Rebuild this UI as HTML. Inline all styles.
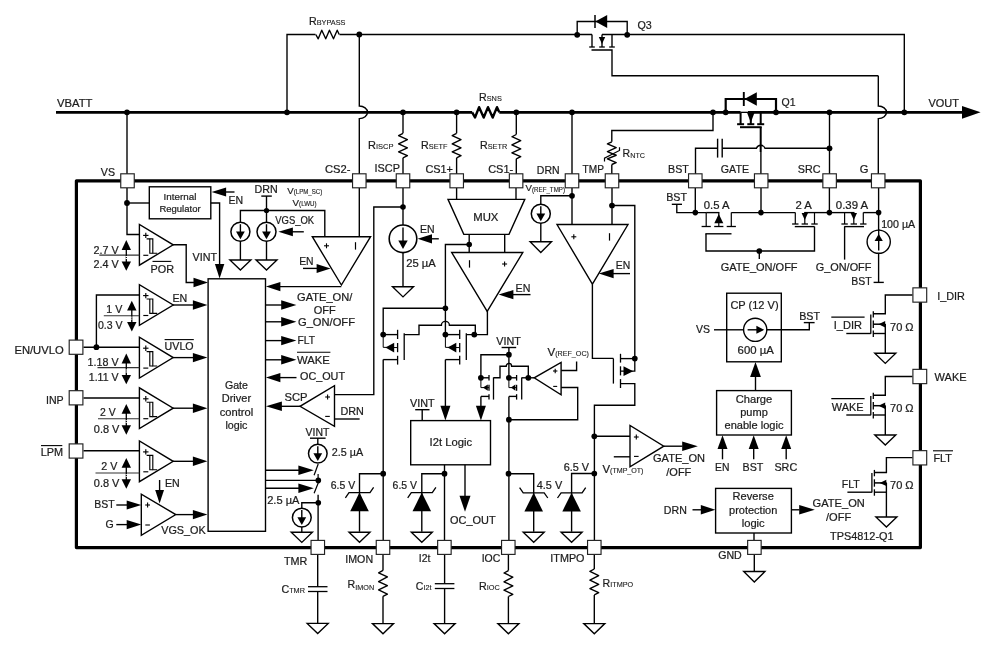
<!DOCTYPE html>
<html lang="en">
<head>
<meta charset="utf-8">
<title>TPS4812-Q1 Functional Block Diagram</title>
<style>
html,body{margin:0;padding:0;background:#fff;}
svg{display:block;will-change:transform;}
svg text{font-family:"Liberation Sans",Arial,Helvetica,sans-serif;fill:#1c1c1c;stroke:#1c1c1c;stroke-width:0.22px;}
</style>
</head>
<body>
<svg width="998" height="659" viewBox="0 0 998 659" stroke-linecap="butt" stroke-linejoin="miter">
<rect x="0" y="0" width="998" height="659" fill="#fff"/>
<rect x="76.4" y="180.8" width="844.0" height="366.8" fill="none" stroke="#000" stroke-width="3.2" stroke-linejoin="round"/>
<path d="M56.00,112.35 L472.20,112.35" fill="none" stroke="#000" stroke-width="2.7" />
<path d="M472.20,112.35 L475.00,117.55 L479.10,107.15 L483.70,117.55 L488.00,107.15 L492.70,117.55 L497.00,107.15 L499.30,112.35" fill="none" stroke="#000" stroke-width="2.4" stroke-linejoin="round"/>
<path d="M499.30,112.35 L740.60,112.35" fill="none" stroke="#000" stroke-width="2.7" />
<path d="M748.00,112.35 L963.00,112.35" fill="none" stroke="#000" stroke-width="2.7" />
<polygon points="980.60,112.35 962.00,106.05 962.00,118.65" fill="#000"/>
<text x="57.00" y="106.60" font-size="10.7" textLength="35.5" lengthAdjust="spacingAndGlyphs" >VBATT</text>
<text x="928.50" y="107.00" font-size="10.7" textLength="30.5" lengthAdjust="spacingAndGlyphs" >VOUT</text>
<circle cx="127.00" cy="112.35" r="2.9" fill="#000"/>
<path d="M127.00,112.35 L127.00,174.00" fill="none" stroke="#000" stroke-width="1.38" />
<circle cx="287.00" cy="112.35" r="2.9" fill="#000"/>
<path d="M287.00,112.35 L287.00,34.50 L315.50,34.50" fill="none" stroke="#000" stroke-width="1.38" />
<path d="M315.80,34.50 L318.22,38.80 L321.76,30.20 L325.73,38.80 L329.44,30.20 L333.50,38.80 L337.21,30.20 L339.20,34.50" fill="none" stroke="#000" stroke-width="1.38" stroke-linejoin="round"/>
<path d="M339.50,34.50 L592.00,34.50" fill="none" stroke="#000" stroke-width="1.38" />
<circle cx="359.30" cy="34.50" r="2.9" fill="#000"/>
<path d="M359.3,34.5 L359.3,106 A8.2,6.3 0 0 1 359.3,118.6 L359.3,174" fill="none" stroke="#000" stroke-width="1.38" />
<text x="309.00" y="25.00" font-size="10.8" textLength="36.5" lengthAdjust="spacingAndGlyphs">R<tspan font-size="7.4" stroke-width="0.12">BYPASS</tspan></text>
<circle cx="403.00" cy="112.35" r="2.9" fill="#000"/>
<path d="M403.00,112.35 L403.00,133.30" fill="none" stroke="#000" stroke-width="1.38" />
<path d="M403.00,133.30 L398.60,135.56 L407.40,139.52 L398.60,143.85 L407.40,147.81 L398.60,151.77 L407.40,155.73 L403.00,157.80" fill="none" stroke="#000" stroke-width="1.38" stroke-linejoin="round"/>
<path d="M403.00,157.80 L403.00,174.00" fill="none" stroke="#000" stroke-width="1.38" />
<circle cx="456.60" cy="112.35" r="2.9" fill="#000"/>
<path d="M456.60,112.35 L456.60,133.30" fill="none" stroke="#000" stroke-width="1.38" />
<path d="M456.60,133.30 L452.20,135.56 L461.00,139.52 L452.20,143.85 L461.00,147.81 L452.20,151.77 L461.00,155.73 L456.60,157.80" fill="none" stroke="#000" stroke-width="1.38" stroke-linejoin="round"/>
<path d="M456.60,157.80 L456.60,174.00" fill="none" stroke="#000" stroke-width="1.38" />
<circle cx="516.30" cy="112.35" r="2.9" fill="#000"/>
<path d="M516.30,112.35 L516.30,134.50" fill="none" stroke="#000" stroke-width="1.38" />
<path d="M516.30,134.50 L511.90,136.74 L520.70,140.67 L511.90,144.97 L520.70,148.89 L511.90,152.82 L520.70,156.74 L516.30,158.80" fill="none" stroke="#000" stroke-width="1.38" stroke-linejoin="round"/>
<path d="M516.30,158.80 L516.30,174.00" fill="none" stroke="#000" stroke-width="1.38" />
<text x="368.00" y="149.00" font-size="10.8" textLength="25.5" lengthAdjust="spacingAndGlyphs">R<tspan font-size="7.4" stroke-width="0.12">ISCP</tspan></text>
<text x="421.00" y="148.60" font-size="10.8" textLength="26.5" lengthAdjust="spacingAndGlyphs">R<tspan font-size="7.4" stroke-width="0.12">SETF</tspan></text>
<text x="480.00" y="149.40" font-size="10.8" textLength="27.2" lengthAdjust="spacingAndGlyphs">R<tspan font-size="7.4" stroke-width="0.12">SETR</tspan></text>
<text x="479.00" y="100.70" font-size="10.8" textLength="22.8" lengthAdjust="spacingAndGlyphs">R<tspan font-size="7.4" stroke-width="0.12">SNS</tspan></text>
<circle cx="572.00" cy="112.35" r="2.9" fill="#000"/>
<path d="M572.00,112.35 L572.00,174.00" fill="none" stroke="#000" stroke-width="1.38" />
<circle cx="713.00" cy="112.35" r="2.9" fill="#000"/>
<path d="M713.00,112.35 L713.00,130.50 L611.80,130.50 L611.80,141.80" fill="none" stroke="#000" stroke-width="1.38" />
<path d="M611.80,141.80 L607.40,143.90 L616.20,147.56 L607.40,151.58 L616.20,155.25 L607.40,158.91 L616.20,162.58 L611.80,164.50" fill="none" stroke="#000" stroke-width="1.38" stroke-linejoin="round"/>
<path d="M611.80,164.50 L611.80,174.00" fill="none" stroke="#000" stroke-width="1.38" />
<path d="M604.50,161.60 L604.50,158.20 L619.50,150.50 L619.50,147.20" fill="none" stroke="#000" stroke-width="1.2" />
<text x="622.60" y="156.90" font-size="10.8" textLength="22.4" lengthAdjust="spacingAndGlyphs">R<tspan font-size="7.4" dy="0.7" stroke-width="0.12">NTC</tspan></text>
<circle cx="577.20" cy="34.80" r="2.9" fill="#000"/>
<circle cx="627.20" cy="34.80" r="2.9" fill="#000"/>
<path d="M577.20,34.80 L577.20,21.50 L627.20,21.50 L627.20,34.80" fill="none" stroke="#000" stroke-width="1.38" />
<polygon points="595.3,21.5 607.2,15 607.2,28" fill="#000"/>
<path d="M595.00,15.00 L595.00,28.00" fill="none" stroke="#000" stroke-width="1.5" />
<path d="M592.00,34.50 L592.00,47.00" fill="none" stroke="#000" stroke-width="1.38" />
<path d="M602.00,34.50 L602.00,47.00" fill="none" stroke="#000" stroke-width="1.38" />
<path d="M612.00,34.50 L612.00,47.00" fill="none" stroke="#000" stroke-width="1.38" />
<path d="M602.00,34.50 L904.30,34.50 L904.30,112.35" fill="none" stroke="#000" stroke-width="1.38" />
<path d="M589.20,47.00 L594.80,47.00" fill="none" stroke="#000" stroke-width="1.3" />
<path d="M599.20,47.00 L604.80,47.00" fill="none" stroke="#000" stroke-width="1.3" />
<path d="M609.20,47.00 L614.80,47.00" fill="none" stroke="#000" stroke-width="1.3" />
<polygon points="602,44 598.8,37 605.2,37" fill="#000"/>
<path d="M591.50,50.00 L612.00,50.00 L612.00,75.80 L878.30,75.80" fill="none" stroke="#000" stroke-width="1.38" />
<path d="M878.3,75.8 L878.3,106 A8.2,6.3 0 0 1 878.3,118.6 L878.3,174" fill="none" stroke="#000" stroke-width="1.38" />
<text x="637.50" y="28.80" font-size="10.6" textLength="14.3" lengthAdjust="spacingAndGlyphs" >Q3</text>
<circle cx="904.30" cy="112.35" r="2.9" fill="#000"/>
<circle cx="725.70" cy="112.35" r="2.9" fill="#000"/>
<circle cx="776.00" cy="112.35" r="2.9" fill="#000"/>
<path d="M725.70,112.35 L725.70,99.00 L776.00,99.00 L776.00,112.35" fill="none" stroke="#000" stroke-width="2.2" />
<polygon points="744.4,99 756.8,92.3 756.8,105.7" fill="#000"/>
<path d="M743.80,92.00 L743.80,106.00" fill="none" stroke="#000" stroke-width="1.9" />
<path d="M740.60,112.35 L740.60,124.20" fill="none" stroke="#000" stroke-width="2.0" />
<path d="M737.10,124.20 L744.10,124.20" fill="none" stroke="#000" stroke-width="2.0" />
<path d="M750.80,112.35 L750.80,124.20" fill="none" stroke="#000" stroke-width="2.0" />
<path d="M747.30,124.20 L754.30,124.20" fill="none" stroke="#000" stroke-width="2.0" />
<path d="M760.70,112.35 L760.70,124.20" fill="none" stroke="#000" stroke-width="2.0" />
<path d="M757.20,124.20 L764.20,124.20" fill="none" stroke="#000" stroke-width="2.0" />
<polygon points="750.8,122.6 746.9,112.3 754.7,112.3" fill="#000"/>
<path d="M740.60,112.35 L748.00,112.35" fill="none" stroke="#000" stroke-width="1.3" />
<path d="M740.00,127.20 L761.70,127.20" fill="none" stroke="#000" stroke-width="2.0" />
<path d="M760.70,127.20 L760.70,152.00" fill="none" stroke="#000" stroke-width="2.0" />
<path d="M760.90,152.00 L760.90,174.00" fill="none" stroke="#000" stroke-width="1.38" />
<text x="781.50" y="105.80" font-size="10.6" textLength="14.0" lengthAdjust="spacingAndGlyphs" >Q1</text>
<path d="M695.50,174.00 L695.50,148.30 L717.60,148.30" fill="none" stroke="#000" stroke-width="1.38" />
<path d="M717.60,138.70 L717.60,157.60" fill="none" stroke="#000" stroke-width="1.4" />
<path d="M722.20,138.70 L722.20,157.60" fill="none" stroke="#000" stroke-width="1.4" />
<path d="M722.2,148.3 L756.4,148.3 A4.6,4.8 0 0 1 765,148.3 L829.5,148.3" fill="none" stroke="#000" stroke-width="1.38" />
<circle cx="829.50" cy="112.35" r="2.9" fill="#000"/>
<circle cx="829.50" cy="148.30" r="2.9" fill="#000"/>
<path d="M829.50,112.35 L829.50,174.00" fill="none" stroke="#000" stroke-width="1.38" />
<text x="100.80" y="175.80" font-size="10.6" textLength="14.2" lengthAdjust="spacingAndGlyphs" >VS</text>
<text x="325.00" y="173.20" font-size="10.6" textLength="25.5" lengthAdjust="spacingAndGlyphs" >CS2-</text>
<text x="374.60" y="172.20" font-size="10.6" textLength="25.4" lengthAdjust="spacingAndGlyphs" >ISCP</text>
<text x="425.40" y="173.20" font-size="10.6" textLength="27.6" lengthAdjust="spacingAndGlyphs" >CS1+</text>
<text x="488.20" y="173.20" font-size="10.6" textLength="25.0" lengthAdjust="spacingAndGlyphs" >CS1-</text>
<text x="536.80" y="173.60" font-size="10.6" textLength="22.8" lengthAdjust="spacingAndGlyphs" >DRN</text>
<text x="582.50" y="172.60" font-size="10.6" textLength="21.4" lengthAdjust="spacingAndGlyphs" >TMP</text>
<text x="668.00" y="172.60" font-size="10.6" textLength="20.8" lengthAdjust="spacingAndGlyphs" >BST</text>
<text x="720.80" y="172.80" font-size="10.6" textLength="28.2" lengthAdjust="spacingAndGlyphs" >GATE</text>
<text x="797.80" y="172.60" font-size="10.6" textLength="22.7" lengthAdjust="spacingAndGlyphs" >SRC</text>
<text x="859.80" y="172.60" font-size="10.6" textLength="8.7" lengthAdjust="spacingAndGlyphs" >G</text>
<path d="M127.00,188.00 L127.00,234.50 L139.40,234.50" fill="none" stroke="#000" stroke-width="1.38" />
<circle cx="127.00" cy="203.00" r="2.9" fill="#000"/>
<path d="M127.00,203.00 L149.30,203.00" fill="none" stroke="#000" stroke-width="1.38" />
<rect x="149.30" y="186.80" width="61.50" height="32.00" fill="#fff" stroke="#000" stroke-width="1.38"/>
<text x="180.00" y="200.00" font-size="9.9" text-anchor="middle" textLength="32.8" lengthAdjust="spacingAndGlyphs" >Internal</text>
<text x="180.00" y="212.00" font-size="9.9" text-anchor="middle" textLength="41.2" lengthAdjust="spacingAndGlyphs" >Regulator</text>
<polygon points="211.60,192.00 226.10,187.40 226.10,196.60" fill="#000"/>
<path d="M226.00,192.00 L234.50,192.00" fill="none" stroke="#000" stroke-width="1.38" />
<text x="228.60" y="203.60" font-size="10.6" textLength="14.6" lengthAdjust="spacingAndGlyphs" >EN</text>
<path d="M210.80,203.00 L219.60,203.00 L219.60,264.50" fill="none" stroke="#000" stroke-width="1.38" />
<polygon points="219.60,278.60 214.90,264.10 224.30,264.10" fill="#000"/>
<text x="192.50" y="260.60" font-size="10.6" textLength="24.5" lengthAdjust="spacingAndGlyphs" >VINT</text>
<polygon points="139.40,224.40 139.40,265.20 173.20,244.80" fill="#fff" stroke="#000" stroke-width="1.38"/>
<path d="M143.10,235.40 L148.50,235.40" fill="none" stroke="#000" stroke-width="1.15" />
<path d="M145.80,232.70 L145.80,238.10" fill="none" stroke="#000" stroke-width="1.15" />
<path d="M143.30,255.30 L148.30,255.30" fill="none" stroke="#000" stroke-width="1.15" />
<path d="M146.60,238.80 L152.80,238.80 L152.80,253.20 L157.20,253.20" fill="none" stroke="#000" stroke-width="1.15" />
<path d="M149.80,238.80 L149.80,253.20 L152.80,253.20" fill="none" stroke="#000" stroke-width="1.15" />
<path d="M99.30,255.10 L139.40,255.10" fill="none" stroke="#333" stroke-width="1.1" />
<polygon points="126.30,240.10 121.60,249.90 131.00,249.90" fill="#000"/>
<polygon points="126.30,270.80 121.60,261.40 131.00,261.40" fill="#000"/>
<path d="M126.30,249.10 L126.30,262.10" fill="none" stroke="#000" stroke-width="1.3" />
<path d="M126.3,256.0 L126.3,259.3" stroke="#fff" stroke-width="1.6" stroke-dasharray="0.9,1.1" fill="none"/>
<text x="93.50" y="253.80" font-size="10.6" textLength="25.2" lengthAdjust="spacingAndGlyphs" >2.7 V</text>
<text x="93.50" y="267.70" font-size="10.6" textLength="25.2" lengthAdjust="spacingAndGlyphs" >2.4 V</text>
<text x="150.50" y="272.60" font-size="10.6" textLength="23.5" lengthAdjust="spacingAndGlyphs" >POR</text>
<path d="M152.50,261.40 L171.30,261.40" fill="none" stroke="#000" stroke-width="1.1" />
<path d="M173.00,244.80 L186.20,244.80 L186.20,282.50 L194.00,282.50" fill="none" stroke="#000" stroke-width="1.38" />
<polygon points="208.00,282.50 193.50,277.80 193.50,287.20" fill="#000"/>
<polygon points="139.40,284.60 139.40,325.40 173.20,305.00" fill="#fff" stroke="#000" stroke-width="1.38"/>
<path d="M143.10,295.60 L148.50,295.60" fill="none" stroke="#000" stroke-width="1.15" />
<path d="M145.80,292.90 L145.80,298.30" fill="none" stroke="#000" stroke-width="1.15" />
<path d="M143.30,315.50 L148.30,315.50" fill="none" stroke="#000" stroke-width="1.15" />
<path d="M146.60,299.00 L152.80,299.00 L152.80,313.40 L157.20,313.40" fill="none" stroke="#000" stroke-width="1.15" />
<path d="M149.80,299.00 L149.80,313.40 L152.80,313.40" fill="none" stroke="#000" stroke-width="1.15" />
<path d="M96.40,347.20 L96.40,295.00 L139.40,295.00" fill="none" stroke="#000" stroke-width="1.38" />
<path d="M103.80,315.80 L139.40,315.80" fill="none" stroke="#333" stroke-width="1.1" />
<polygon points="131.80,300.80 127.10,310.60 136.50,310.60" fill="#000"/>
<polygon points="131.80,331.50 127.10,322.10 136.50,322.10" fill="#000"/>
<path d="M131.80,309.80 L131.80,322.80" fill="none" stroke="#000" stroke-width="1.3" />
<path d="M131.8,316.7 L131.8,320.0" stroke="#fff" stroke-width="1.6" stroke-dasharray="0.9,1.1" fill="none"/>
<text x="106.30" y="312.60" font-size="10.6" textLength="16.0" lengthAdjust="spacingAndGlyphs" >1 V</text>
<text x="98.00" y="328.80" font-size="10.6" textLength="24.6" lengthAdjust="spacingAndGlyphs" >0.3 V</text>
<text x="172.40" y="302.00" font-size="10.6" textLength="14.8" lengthAdjust="spacingAndGlyphs" >EN</text>
<path d="M173.00,305.00 L193.00,305.00" fill="none" stroke="#000" stroke-width="1.38" />
<polygon points="207.40,305.00 192.90,300.30 192.90,309.70" fill="#000"/>
<polygon points="139.40,337.20 139.40,378.00 173.20,357.60" fill="#fff" stroke="#000" stroke-width="1.38"/>
<path d="M143.10,348.20 L148.50,348.20" fill="none" stroke="#000" stroke-width="1.15" />
<path d="M145.80,345.50 L145.80,350.90" fill="none" stroke="#000" stroke-width="1.15" />
<path d="M143.30,368.10 L148.30,368.10" fill="none" stroke="#000" stroke-width="1.15" />
<path d="M146.60,351.60 L152.80,351.60 L152.80,366.00 L157.20,366.00" fill="none" stroke="#000" stroke-width="1.15" />
<path d="M149.80,351.60 L149.80,366.00 L152.80,366.00" fill="none" stroke="#000" stroke-width="1.15" />
<circle cx="96.40" cy="347.20" r="2.9" fill="#000"/>
<path d="M83.50,347.20 L139.40,347.20" fill="none" stroke="#000" stroke-width="1.38" />
<path d="M97.50,367.60 L139.40,367.60" fill="none" stroke="#333" stroke-width="1.1" />
<polygon points="126.30,353.60 121.60,363.40 131.00,363.40" fill="#000"/>
<polygon points="126.30,384.30 121.60,374.90 131.00,374.90" fill="#000"/>
<path d="M126.30,362.60 L126.30,375.60" fill="none" stroke="#000" stroke-width="1.3" />
<path d="M126.3,369.5 L126.3,372.8" stroke="#fff" stroke-width="1.6" stroke-dasharray="0.9,1.1" fill="none"/>
<text x="87.60" y="366.30" font-size="10.6" textLength="31.0" lengthAdjust="spacingAndGlyphs" >1.18 V</text>
<text x="88.80" y="380.50" font-size="10.6" textLength="29.8" lengthAdjust="spacingAndGlyphs" >1.11 V</text>
<text x="164.60" y="350.00" font-size="10.6" textLength="29.0" lengthAdjust="spacingAndGlyphs" >UVLO</text>
<path d="M164.60,339.60 L193.80,339.60" fill="none" stroke="#000" stroke-width="1.1" />
<path d="M173.00,357.60 L193.00,357.60" fill="none" stroke="#000" stroke-width="1.38" />
<polygon points="207.40,357.60 192.90,352.90 192.90,362.30" fill="#000"/>
<polygon points="139.40,387.80 139.40,428.60 173.20,408.20" fill="#fff" stroke="#000" stroke-width="1.38"/>
<path d="M143.10,398.80 L148.50,398.80" fill="none" stroke="#000" stroke-width="1.15" />
<path d="M145.80,396.10 L145.80,401.50" fill="none" stroke="#000" stroke-width="1.15" />
<path d="M143.30,418.70 L148.30,418.70" fill="none" stroke="#000" stroke-width="1.15" />
<path d="M146.60,402.20 L152.80,402.20 L152.80,416.60 L157.20,416.60" fill="none" stroke="#000" stroke-width="1.15" />
<path d="M149.80,402.20 L149.80,416.60 L152.80,416.60" fill="none" stroke="#000" stroke-width="1.15" />
<path d="M83.50,398.00 L139.40,398.00" fill="none" stroke="#000" stroke-width="1.38" />
<path d="M98.00,418.80 L139.40,418.80" fill="none" stroke="#333" stroke-width="1.1" />
<polygon points="126.30,404.00 121.60,413.80 131.00,413.80" fill="#000"/>
<polygon points="126.30,434.70 121.60,425.30 131.00,425.30" fill="#000"/>
<path d="M126.30,413.00 L126.30,426.00" fill="none" stroke="#000" stroke-width="1.3" />
<path d="M126.3,419.9 L126.3,423.2" stroke="#fff" stroke-width="1.6" stroke-dasharray="0.9,1.1" fill="none"/>
<text x="100.00" y="415.60" font-size="10.6" textLength="15.6" lengthAdjust="spacingAndGlyphs" >2 V</text>
<text x="93.80" y="432.60" font-size="10.6" textLength="25.6" lengthAdjust="spacingAndGlyphs" >0.8 V</text>
<path d="M173.00,408.20 L193.00,408.20" fill="none" stroke="#000" stroke-width="1.38" />
<polygon points="207.40,408.20 192.90,403.50 192.90,412.90" fill="#000"/>
<polygon points="139.40,440.90 139.40,481.70 173.20,461.30" fill="#fff" stroke="#000" stroke-width="1.38"/>
<path d="M143.10,451.90 L148.50,451.90" fill="none" stroke="#000" stroke-width="1.15" />
<path d="M145.80,449.20 L145.80,454.60" fill="none" stroke="#000" stroke-width="1.15" />
<path d="M143.30,471.80 L148.30,471.80" fill="none" stroke="#000" stroke-width="1.15" />
<path d="M146.60,455.30 L152.80,455.30 L152.80,469.70 L157.20,469.70" fill="none" stroke="#000" stroke-width="1.15" />
<path d="M149.80,455.30 L149.80,469.70 L152.80,469.70" fill="none" stroke="#000" stroke-width="1.15" />
<path d="M83.50,450.80 L139.40,450.80" fill="none" stroke="#000" stroke-width="1.38" />
<path d="M95.50,473.00 L139.40,473.00" fill="none" stroke="#333" stroke-width="1.1" />
<polygon points="126.30,458.00 121.60,467.80 131.00,467.80" fill="#000"/>
<polygon points="126.30,488.70 121.60,479.30 131.00,479.30" fill="#000"/>
<path d="M126.30,467.00 L126.30,480.00" fill="none" stroke="#000" stroke-width="1.3" />
<path d="M126.3,473.9 L126.3,477.2" stroke="#fff" stroke-width="1.6" stroke-dasharray="0.9,1.1" fill="none"/>
<text x="101.30" y="469.60" font-size="10.6" textLength="16.0" lengthAdjust="spacingAndGlyphs" >2 V</text>
<text x="93.80" y="487.00" font-size="10.6" textLength="25.6" lengthAdjust="spacingAndGlyphs" >0.8 V</text>
<path d="M173.00,461.30 L193.00,461.30" fill="none" stroke="#000" stroke-width="1.38" />
<polygon points="207.40,461.30 192.90,456.60 192.90,466.00" fill="#000"/>
<polygon points="141.3,494.2 141.3,535.4 175.8,514.6" fill="#fff" stroke="#000" stroke-width="1.38"/>
<path d="M145.20,505.00 L150.00,505.00" fill="none" stroke="#000" stroke-width="1.1" />
<path d="M147.60,502.60 L147.60,507.40" fill="none" stroke="#000" stroke-width="1.1" />
<path d="M145.30,525.00 L149.90,525.00" fill="none" stroke="#000" stroke-width="1.1" />
<path d="M159.60,480.00 L159.60,490.00" fill="none" stroke="#000" stroke-width="1.38" />
<polygon points="159.60,503.60 155.20,490.00 164.00,490.00" fill="#000"/>
<text x="165.00" y="487.00" font-size="10.6" textLength="14.8" lengthAdjust="spacingAndGlyphs" >EN</text>
<text x="94.20" y="508.20" font-size="10.6" textLength="20.4" lengthAdjust="spacingAndGlyphs" >BST</text>
<path d="M116.30,505.00 L127.00,505.00" fill="none" stroke="#000" stroke-width="1.38" />
<polygon points="141.30,505.00 126.70,500.40 126.70,509.60" fill="#000"/>
<text x="105.40" y="527.60" font-size="10.6" textLength="8.2" lengthAdjust="spacingAndGlyphs" >G</text>
<path d="M116.30,524.60 L127.00,524.60" fill="none" stroke="#000" stroke-width="1.38" />
<polygon points="141.30,524.60 126.70,520.00 126.70,529.20" fill="#000"/>
<text x="161.20" y="534.40" font-size="10.6" textLength="44.6" lengthAdjust="spacingAndGlyphs" >VGS_OK</text>
<path d="M175.80,514.60 L193.00,514.60" fill="none" stroke="#000" stroke-width="1.38" />
<polygon points="207.40,514.60 192.90,509.90 192.90,519.30" fill="#000"/>
<text x="14.40" y="353.80" font-size="10.6" textLength="49.3" lengthAdjust="spacingAndGlyphs" >EN/UVLO</text>
<text x="46.00" y="403.90" font-size="10.6" textLength="17.7" lengthAdjust="spacingAndGlyphs" >INP</text>
<text x="40.80" y="455.70" font-size="10.6" textLength="22.4" lengthAdjust="spacingAndGlyphs" >LPM</text>
<path d="M41.00,445.60 L62.30,445.60" fill="none" stroke="#000" stroke-width="1.1" />
<rect x="208.10" y="278.80" width="57.40" height="252.50" fill="#fff" stroke="#000" stroke-width="1.38"/>
<text x="236.40" y="388.90" font-size="10.6" text-anchor="middle" textLength="23.0" lengthAdjust="spacingAndGlyphs" >Gate</text>
<text x="236.40" y="402.20" font-size="10.6" text-anchor="middle" textLength="29.3" lengthAdjust="spacingAndGlyphs" >Driver</text>
<text x="236.40" y="415.50" font-size="10.6" text-anchor="middle" textLength="33.5" lengthAdjust="spacingAndGlyphs" >control</text>
<text x="236.40" y="428.80" font-size="10.6" text-anchor="middle" textLength="22.0" lengthAdjust="spacingAndGlyphs" >logic</text>
<polygon points="265.90,286.60 280.40,281.90 280.40,291.30" fill="#000"/>
<path d="M280.00,286.60 L341.30,286.60" fill="none" stroke="#000" stroke-width="1.38" />
<path d="M265.50,305.00 L282.00,305.00" fill="none" stroke="#000" stroke-width="1.38" />
<polygon points="296.40,305.00 281.20,300.30 281.20,309.70" fill="#000"/>
<path d="M265.50,321.80 L282.00,321.80" fill="none" stroke="#000" stroke-width="1.38" />
<polygon points="296.40,321.80 281.20,317.10 281.20,326.50" fill="#000"/>
<path d="M265.50,340.60 L282.00,340.60" fill="none" stroke="#000" stroke-width="1.38" />
<polygon points="296.40,340.60 281.20,335.90 281.20,345.30" fill="#000"/>
<path d="M265.50,359.80 L282.00,359.80" fill="none" stroke="#000" stroke-width="1.38" />
<polygon points="296.40,359.80 281.20,355.10 281.20,364.50" fill="#000"/>
<text x="297.00" y="300.90" font-size="10.6" textLength="55.4" lengthAdjust="spacingAndGlyphs" >GATE_ON/</text>
<text x="313.80" y="313.70" font-size="10.6" textLength="22.0" lengthAdjust="spacingAndGlyphs" >OFF</text>
<text x="298.00" y="325.50" font-size="10.6" textLength="57.0" lengthAdjust="spacingAndGlyphs" >G_ON/OFF</text>
<text x="297.50" y="343.80" font-size="10.6" textLength="17.5" lengthAdjust="spacingAndGlyphs" >FLT</text>
<text x="297.00" y="363.90" font-size="10.6" textLength="32.8" lengthAdjust="spacingAndGlyphs" >WAKE</text>
<path d="M297.00,352.30 L330.40,352.30" fill="none" stroke="#000" stroke-width="1.1" />
<polygon points="265.90,377.60 280.40,372.90 280.40,382.30" fill="#000"/>
<path d="M280.00,377.60 L296.50,377.60" fill="none" stroke="#000" stroke-width="1.38" />
<text x="300.00" y="380.10" font-size="10.6" textLength="45.0" lengthAdjust="spacingAndGlyphs" >OC_OUT</text>
<polygon points="265.90,406.30 281.90,401.60 281.90,411.00" fill="#000"/>
<path d="M281.00,406.30 L300.00,406.30" fill="none" stroke="#000" stroke-width="1.38" />
<text x="284.50" y="400.50" font-size="10.6" textLength="23.0" lengthAdjust="spacingAndGlyphs" >SCP</text>
<polygon points="334.5,385.6 334.5,426.3 300,406.3" fill="#fff" stroke="#000" stroke-width="1.38"/>
<path d="M325.20,397.00 L330.00,397.00" fill="none" stroke="#000" stroke-width="1.1" />
<path d="M327.60,394.60 L327.60,399.40" fill="none" stroke="#000" stroke-width="1.1" />
<path d="M325.20,416.40 L329.80,416.40" fill="none" stroke="#000" stroke-width="1.1" />
<path d="M334.50,394.60 L373.80,394.60 L373.80,207.00 L403.00,207.00" fill="none" stroke="#000" stroke-width="1.38" />
<text x="340.50" y="414.60" font-size="10.6" textLength="23.4" lengthAdjust="spacingAndGlyphs" >DRN</text>
<path d="M334.50,419.00 L359.60,419.00" fill="none" stroke="#000" stroke-width="1.38" />
<text x="254.60" y="192.70" font-size="10.6" textLength="23.2" lengthAdjust="spacingAndGlyphs" >DRN</text>
<path d="M261.30,196.10 L271.80,196.10" fill="none" stroke="#000" stroke-width="1.38" />
<path d="M266.50,196.10 L266.50,210.50" fill="none" stroke="#000" stroke-width="1.38" />
<circle cx="266.50" cy="210.50" r="2.6" fill="#000"/>
<path d="M240.40,222.00 L240.40,210.50 L324.80,210.50 L324.80,236.70" fill="none" stroke="#000" stroke-width="1.38" />
<path d="M266.50,210.50 L266.50,222.00" fill="none" stroke="#000" stroke-width="1.38" />
<path d="M240.40,241.00 L240.40,260.00" fill="none" stroke="#000" stroke-width="1.38" />
<polygon points="229.90,260.00 250.90,260.00 240.40,270.10" fill="#fff" stroke="#000" stroke-width="1.38" stroke-linejoin="miter"/>
<circle cx="240.40" cy="231.80" r="9.5" fill="#fff" stroke="#000" stroke-width="1.5"/>
<path d="M240.40,224.20 L240.40,232.61" fill="none" stroke="#000" stroke-width="1.4" />
<polygon points="240.40,239.31 236.00,231.61 244.80,231.61" fill="#000"/>
<path d="M266.50,241.00 L266.50,260.00" fill="none" stroke="#000" stroke-width="1.38" />
<polygon points="256.00,260.00 277.00,260.00 266.50,270.10" fill="#fff" stroke="#000" stroke-width="1.38" stroke-linejoin="miter"/>
<circle cx="266.50" cy="231.80" r="9.5" fill="#fff" stroke="#000" stroke-width="1.5"/>
<path d="M266.50,224.20 L266.50,232.61" fill="none" stroke="#000" stroke-width="1.4" />
<polygon points="266.50,239.31 262.10,231.61 270.90,231.61" fill="#000"/>
<polygon points="278.40,231.80 292.90,227.40 292.90,236.20" fill="#000"/>
<path d="M292.00,231.80 L303.80,231.80" fill="none" stroke="#000" stroke-width="1.38" />
<text x="275.20" y="223.70" font-size="10.3" textLength="39.0" lengthAdjust="spacingAndGlyphs" >VGS_OK</text>
<text x="287.30" y="194.00" font-size="9.9" textLength="35.0" lengthAdjust="spacingAndGlyphs">V<tspan font-size="6.3" dy="0.3" stroke-width="0.12">(LPM_SC)</tspan></text>
<text x="292.60" y="205.90" font-size="9.9" textLength="24.0" lengthAdjust="spacingAndGlyphs">V<tspan font-size="6.3" dy="0.3" stroke-width="0.12">(LWU)</tspan></text>
<path d="M359.30,188.00 L359.30,236.70" fill="none" stroke="#000" stroke-width="1.38" />
<polygon points="312.3,236.7 370.6,236.7 341.4,285" fill="#fff" stroke="#000" stroke-width="1.38"/>
<path d="M324.00,245.80 L329.00,245.80" fill="none" stroke="#000" stroke-width="1.1" />
<path d="M326.50,243.30 L326.50,248.30" fill="none" stroke="#000" stroke-width="1.1" />
<path d="M355.50,242.20 L355.50,249.60" fill="none" stroke="#000" stroke-width="1.2" />
<text x="299.20" y="264.60" font-size="10.6" textLength="14.4" lengthAdjust="spacingAndGlyphs" >EN</text>
<path d="M303.00,268.40 L317.00,268.40" fill="none" stroke="#000" stroke-width="1.38" />
<polygon points="330.60,268.40 316.60,263.90 316.60,272.90" fill="#000"/>
<path d="M403.00,188.00 L403.00,225.00" fill="none" stroke="#000" stroke-width="1.38" />
<circle cx="403.00" cy="207.00" r="2.8" fill="#000"/>
<path d="M403.00,252.00 L403.00,286.80" fill="none" stroke="#000" stroke-width="1.38" />
<polygon points="392.50,286.80 413.50,286.80 403.00,296.90" fill="#fff" stroke="#000" stroke-width="1.38" stroke-linejoin="miter"/>
<circle cx="403.00" cy="238.80" r="13.8" fill="#fff" stroke="#000" stroke-width="1.6"/>
<path d="M403.00,227.50 L403.00,241.40" fill="none" stroke="#000" stroke-width="1.4" />
<polygon points="403.00,249.00 398.30,240.40 407.70,240.40" fill="#000"/>
<polygon points="417.60,238.80 432.00,234.20 432.00,243.40" fill="#000"/>
<path d="M432.00,238.80 L438.80,238.80" fill="none" stroke="#000" stroke-width="1.38" />
<text x="420.00" y="232.50" font-size="10.6" textLength="14.6" lengthAdjust="spacingAndGlyphs" >EN</text>
<text x="406.20" y="267.00" font-size="10.6" textLength="29.6" lengthAdjust="spacingAndGlyphs" >25 µA</text>
<path d="M456.60,188.00 L456.60,199.40" fill="none" stroke="#000" stroke-width="1.38" />
<path d="M516.00,188.00 L516.00,199.40" fill="none" stroke="#000" stroke-width="1.38" />
<polygon points="448,199.4 524.8,199.4 509,234.4 463.8,234.4" fill="#fff" stroke="#000" stroke-width="1.38"/>
<text x="473.20" y="220.80" font-size="10.6" textLength="25.2" lengthAdjust="spacingAndGlyphs" >MUX</text>
<path d="M469.20,234.40 L469.20,252.50" fill="none" stroke="#000" stroke-width="1.38" />
<path d="M504.70,234.40 L504.70,252.50" fill="none" stroke="#000" stroke-width="1.38" />
<circle cx="469.20" cy="244.50" r="2.8" fill="#000"/>
<path d="M469.20,244.50 L445.40,244.50 L445.40,334.60" fill="none" stroke="#000" stroke-width="1.38" />
<polygon points="451.7,252.5 522.8,252.5 487.2,311.4" fill="#fff" stroke="#000" stroke-width="1.38"/>
<path d="M469.50,260.20 L469.50,267.60" fill="none" stroke="#000" stroke-width="1.2" />
<path d="M502.10,264.00 L507.10,264.00" fill="none" stroke="#000" stroke-width="1.1" />
<path d="M504.60,261.50 L504.60,266.50" fill="none" stroke="#000" stroke-width="1.1" />
<polygon points="498.60,294.60 513.40,290.00 513.40,299.20" fill="#000"/>
<path d="M513.00,294.60 L530.50,294.60" fill="none" stroke="#000" stroke-width="1.38" />
<text x="515.60" y="291.80" font-size="10.6" textLength="14.8" lengthAdjust="spacingAndGlyphs" >EN</text>
<circle cx="445.40" cy="308.20" r="2.8" fill="#000"/>
<path d="M445.40,308.20 L383.20,308.20 L383.20,334.60" fill="none" stroke="#000" stroke-width="1.38" />
<circle cx="383.20" cy="334.60" r="2.9" fill="#000"/>
<path d="M383.20,334.60 L397.60,334.60" fill="none" stroke="#000" stroke-width="1.38" />
<path d="M397.60,329.80 L397.60,339.00" fill="none" stroke="#000" stroke-width="1.3" />
<path d="M397.60,343.00 L397.60,352.20" fill="none" stroke="#000" stroke-width="1.3" />
<path d="M397.60,355.80 L397.60,364.60" fill="none" stroke="#000" stroke-width="1.3" />
<path d="M404.20,333.20 L404.20,360.00" fill="none" stroke="#000" stroke-width="1.3" />
<path d="M383.20,334.60 L383.20,347.34 L397.60,347.60" fill="none" stroke="#000" stroke-width="1.0" />
<polygon points="385.40,347.60 394.20,342.80 394.20,352.40" fill="#000"/>
<path d="M397.60,359.60 L383.20,359.60" fill="none" stroke="#000" stroke-width="1.38" />
<circle cx="445.40" cy="334.60" r="2.9" fill="#000"/>
<path d="M445.40,334.60 L459.70,334.60" fill="none" stroke="#000" stroke-width="1.38" />
<path d="M459.70,329.80 L459.70,339.00" fill="none" stroke="#000" stroke-width="1.3" />
<path d="M459.70,343.00 L459.70,352.20" fill="none" stroke="#000" stroke-width="1.3" />
<path d="M459.70,355.80 L459.70,364.60" fill="none" stroke="#000" stroke-width="1.3" />
<path d="M466.30,333.20 L466.30,360.00" fill="none" stroke="#000" stroke-width="1.3" />
<path d="M445.40,334.60 L445.40,347.34 L459.70,347.60" fill="none" stroke="#000" stroke-width="1.0" />
<polygon points="447.60,347.60 456.30,342.80 456.30,352.40" fill="#000"/>
<path d="M459.70,359.60 L445.40,359.60" fill="none" stroke="#000" stroke-width="1.38" />
<path d="M404.2,334.6 L419,334.6 L419,325.2 L441.4,325.2 A4,3.8 0 0 1 449.4,325.2 L475.3,325.2 L475.3,334.6" fill="none" stroke="#000" stroke-width="1.38" />
<path d="M466.30,334.60 L487.40,334.60 L487.40,311.00" fill="none" stroke="#000" stroke-width="1.38" />
<circle cx="474.30" cy="334.60" r="2.9" fill="#000"/>
<path d="M383.20,359.60 L383.20,540.00" fill="none" stroke="#000" stroke-width="1.38" />
<path d="M445.40,359.60 L445.40,406.00" fill="none" stroke="#000" stroke-width="1.38" />
<polygon points="445.40,420.40 440.40,405.80 450.40,405.80" fill="#000"/>
<text x="496.30" y="345.20" font-size="10.6" textLength="24.6" lengthAdjust="spacingAndGlyphs" >VINT</text>
<path d="M501.60,347.50 L516.20,347.50" fill="none" stroke="#000" stroke-width="1.38" />
<path d="M508.90,347.50 L508.90,354.70" fill="none" stroke="#000" stroke-width="1.38" />
<circle cx="508.90" cy="354.70" r="2.85" fill="#000"/>
<path d="M508.90,354.70 L480.90,354.70 L480.90,377.80" fill="none" stroke="#000" stroke-width="1.38" />
<path d="M508.90,354.70 L508.90,377.80" fill="none" stroke="#000" stroke-width="1.38" />
<circle cx="480.90" cy="377.80" r="2.85" fill="#000"/>
<path d="M480.90,377.80 L489.00,377.80" fill="none" stroke="#000" stroke-width="1.38" />
<path d="M489.00,375.00 L489.00,380.60" fill="none" stroke="#000" stroke-width="1.3" />
<path d="M489.00,384.80 L489.00,390.80" fill="none" stroke="#000" stroke-width="1.3" />
<path d="M489.00,394.20 L489.00,399.60" fill="none" stroke="#000" stroke-width="1.3" />
<path d="M493.50,377.40 L493.50,399.60" fill="none" stroke="#000" stroke-width="1.3" />
<path d="M480.90,377.80 L480.90,387.60 L489.00,387.60" fill="none" stroke="#000" stroke-width="1.0" />
<polygon points="482.90,387.60 487.80,384.40 487.80,390.80" fill="#000"/>
<path d="M489.00,396.40 L480.90,396.40" fill="none" stroke="#000" stroke-width="1.38" />
<circle cx="508.90" cy="377.80" r="2.85" fill="#000"/>
<path d="M508.90,377.80 L516.60,377.80" fill="none" stroke="#000" stroke-width="1.38" />
<path d="M516.60,375.00 L516.60,380.60" fill="none" stroke="#000" stroke-width="1.3" />
<path d="M516.60,384.80 L516.60,390.80" fill="none" stroke="#000" stroke-width="1.3" />
<path d="M516.60,394.20 L516.60,399.60" fill="none" stroke="#000" stroke-width="1.3" />
<path d="M521.70,377.40 L521.70,399.60" fill="none" stroke="#000" stroke-width="1.3" />
<path d="M508.90,377.80 L508.90,387.60 L516.60,387.60" fill="none" stroke="#000" stroke-width="1.0" />
<polygon points="510.90,387.60 515.40,384.40 515.40,390.80" fill="#000"/>
<path d="M516.60,396.40 L508.90,396.40" fill="none" stroke="#000" stroke-width="1.38" />
<path d="M493.5,377.8 L500,377.8 L500,366.2 L506.2,366.2 A2.7,2.8 0 0 1 511.6,366.2 L528.3,366.2 L528.3,377.8" fill="none" stroke="#000" stroke-width="1.38" />
<path d="M521.70,377.80 L534.20,377.80" fill="none" stroke="#000" stroke-width="1.38" />
<circle cx="528.30" cy="377.80" r="2.85" fill="#000"/>
<path d="M480.90,396.40 L480.90,406.00" fill="none" stroke="#000" stroke-width="1.38" />
<polygon points="480.90,420.40 475.90,405.80 485.90,405.80" fill="#000"/>
<path d="M508.90,396.40 L508.90,540.00" fill="none" stroke="#000" stroke-width="1.38" />
<circle cx="508.90" cy="419.70" r="2.85" fill="#000"/>
<polygon points="561.1,362.4 561.1,394.8 534.2,377.8" fill="#fff" stroke="#000" stroke-width="1.38"/>
<path d="M553.00,371.00 L557.40,371.00" fill="none" stroke="#000" stroke-width="1.1" />
<path d="M555.20,368.80 L555.20,373.20" fill="none" stroke="#000" stroke-width="1.1" />
<path d="M553.20,386.40 L557.20,386.40" fill="none" stroke="#000" stroke-width="1.1" />
<path d="M561.10,370.50 L576.60,370.50 L576.60,361.60" fill="none" stroke="#000" stroke-width="1.38" />
<path d="M561.10,387.50 L577.70,387.50 L577.70,419.70 L508.90,419.70" fill="none" stroke="#000" stroke-width="1.38" />
<text x="547.50" y="356.20" font-size="10.6" textLength="41.5" lengthAdjust="spacingAndGlyphs">V<tspan font-size="6.6" dy="0.25" stroke-width="0.12">(REF_OC)</tspan></text>
<text x="410.00" y="407.00" font-size="10.6" textLength="24.6" lengthAdjust="spacingAndGlyphs" >VINT</text>
<path d="M415.20,409.70 L429.50,409.70" fill="none" stroke="#000" stroke-width="1.38" />
<path d="M422.20,409.70 L422.20,420.60" fill="none" stroke="#000" stroke-width="1.38" />
<rect x="410.70" y="420.60" width="79.80" height="44.20" fill="#fff" stroke="#000" stroke-width="1.38"/>
<text x="450.80" y="445.80" font-size="10.6" text-anchor="middle" textLength="42.5" lengthAdjust="spacingAndGlyphs" >I2t Logic</text>
<path d="M444.50,464.80 L444.50,540.00" fill="none" stroke="#000" stroke-width="1.38" />
<circle cx="444.50" cy="473.70" r="2.85" fill="#000"/>
<path d="M465.00,464.80 L465.00,496.00" fill="none" stroke="#000" stroke-width="1.38" />
<polygon points="465.00,511.80 459.50,495.80 470.50,495.80" fill="#000"/>
<text x="450.00" y="524.00" font-size="10.6" textLength="45.6" lengthAdjust="spacingAndGlyphs" >OC_OUT</text>
<circle cx="383.20" cy="473.70" r="2.85" fill="#000"/>
<path d="M383.20,473.70 L359.50,473.70 L359.50,531.80" fill="none" stroke="#000" stroke-width="1.38" />
<path d="M345.40,497.80 L349.00,492.60 L370.00,492.60 L373.60,487.40" fill="none" stroke="#000" stroke-width="1.3" />
<polygon points="359.50,492.60 350.20,511.30 368.80,511.30" fill="#000"/>
<polygon points="349.00,532.20 370.00,532.20 359.50,542.30" fill="#fff" stroke="#000" stroke-width="1.38" stroke-linejoin="miter"/>
<path d="M444.50,473.70 L421.80,473.70 L421.80,531.80" fill="none" stroke="#000" stroke-width="1.38" />
<path d="M407.70,497.80 L411.30,492.60 L432.30,492.60 L435.90,487.40" fill="none" stroke="#000" stroke-width="1.3" />
<polygon points="421.80,492.60 412.50,511.30 431.10,511.30" fill="#000"/>
<polygon points="411.30,532.20 432.30,532.20 421.80,542.30" fill="#fff" stroke="#000" stroke-width="1.38" stroke-linejoin="miter"/>
<circle cx="508.50" cy="473.70" r="2.85" fill="#000"/>
<path d="M508.50,473.70 L533.70,473.70 L533.70,531.80" fill="none" stroke="#000" stroke-width="1.38" />
<path d="M519.60,487.60 L523.20,492.80 L544.20,492.80 L547.80,498.00" fill="none" stroke="#000" stroke-width="1.3" />
<polygon points="533.70,492.80 524.40,511.50 543.00,511.50" fill="#000"/>
<polygon points="523.20,532.20 544.20,532.20 533.70,542.30" fill="#fff" stroke="#000" stroke-width="1.38" stroke-linejoin="miter"/>
<circle cx="594.30" cy="473.50" r="2.85" fill="#000"/>
<path d="M594.30,473.50 L571.60,473.50 L571.60,531.80" fill="none" stroke="#000" stroke-width="1.38" />
<path d="M557.50,498.00 L561.10,492.80 L582.10,492.80 L585.70,487.60" fill="none" stroke="#000" stroke-width="1.3" />
<polygon points="571.60,492.80 562.30,511.50 580.90,511.50" fill="#000"/>
<polygon points="561.10,532.20 582.10,532.20 571.60,542.30" fill="#fff" stroke="#000" stroke-width="1.38" stroke-linejoin="miter"/>
<text x="330.80" y="488.80" font-size="10.6" textLength="24.4" lengthAdjust="spacingAndGlyphs" >6.5 V</text>
<text x="392.60" y="488.80" font-size="10.6" textLength="24.4" lengthAdjust="spacingAndGlyphs" >6.5 V</text>
<text x="536.80" y="489.20" font-size="10.6" textLength="25.4" lengthAdjust="spacingAndGlyphs" >4.5 V</text>
<text x="563.70" y="470.60" font-size="10.6" textLength="25.4" lengthAdjust="spacingAndGlyphs" >6.5 V</text>
<text x="305.60" y="435.70" font-size="10.6" textLength="23.8" lengthAdjust="spacingAndGlyphs" >VINT</text>
<path d="M310.00,438.20 L325.60,438.20" fill="none" stroke="#000" stroke-width="1.38" />
<path d="M317.80,438.20 L317.80,445.00" fill="none" stroke="#000" stroke-width="1.38" />
<circle cx="317.80" cy="453.60" r="9.3" fill="#fff" stroke="#000" stroke-width="1.5"/>
<path d="M317.80,446.16 L317.80,454.25" fill="none" stroke="#000" stroke-width="1.4" />
<polygon points="317.80,460.95 313.40,453.25 322.20,453.25" fill="#000"/>
<text x="331.80" y="455.80" font-size="10.6" textLength="31.4" lengthAdjust="spacingAndGlyphs" >2.5 µA</text>
<path d="M318.20,464.00 L314.10,475.30" fill="none" stroke="#000" stroke-width="1.2" />
<path d="M318.10,474.00 L318.10,480.40" fill="none" stroke="#000" stroke-width="1.2" />
<circle cx="318.30" cy="480.40" r="2.8" fill="#000"/>
<path d="M318.60,482.00 L314.10,493.30" fill="none" stroke="#000" stroke-width="1.2" />
<circle cx="318.30" cy="502.80" r="2.8" fill="#000"/>
<path d="M318.10,494.80 L318.10,540.00" fill="none" stroke="#000" stroke-width="1.38" />
<path d="M265.50,470.20 L299.00,470.20" fill="none" stroke="#000" stroke-width="1.38" />
<polygon points="313.80,470.20 298.40,465.50 298.40,474.90" fill="#000"/>
<path d="M265.50,480.40 L318.00,480.40" fill="none" stroke="#000" stroke-width="1.38" />
<path d="M265.50,488.20 L299.00,488.20" fill="none" stroke="#000" stroke-width="1.38" />
<polygon points="313.80,488.20 298.40,483.50 298.40,492.90" fill="#000"/>
<path d="M318.00,502.80 L301.80,502.80 L301.80,508.00" fill="none" stroke="#000" stroke-width="1.38" />
<path d="M301.80,526.00 L301.80,532.20" fill="none" stroke="#000" stroke-width="1.38" />
<polygon points="291.20,532.20 312.40,532.20 301.80,542.40" fill="#fff" stroke="#000" stroke-width="1.38" stroke-linejoin="miter"/>
<circle cx="301.80" cy="517.60" r="9.4" fill="#fff" stroke="#000" stroke-width="1.5"/>
<path d="M301.80,510.08 L301.80,518.33" fill="none" stroke="#000" stroke-width="1.4" />
<polygon points="301.80,525.03 297.40,517.33 306.20,517.33" fill="#000"/>
<text x="267.20" y="503.80" font-size="10.6" textLength="32.3" lengthAdjust="spacingAndGlyphs" >2.5 µA</text>
<path d="M572.00,188.00 L572.00,224.50" fill="none" stroke="#000" stroke-width="1.38" />
<circle cx="572.00" cy="195.80" r="2.85" fill="#000"/>
<path d="M572.00,195.80 L540.80,195.80 L540.80,205.00" fill="none" stroke="#000" stroke-width="1.38" />
<path d="M540.80,222.00 L540.80,241.80" fill="none" stroke="#000" stroke-width="1.38" />
<polygon points="530.10,241.80 551.50,241.80 540.80,252.50" fill="#fff" stroke="#000" stroke-width="1.38" stroke-linejoin="miter"/>
<circle cx="540.80" cy="213.80" r="9.5" fill="#fff" stroke="#000" stroke-width="1.5"/>
<path d="M540.80,206.20 L540.80,214.61" fill="none" stroke="#000" stroke-width="1.4" />
<polygon points="540.80,221.31 536.40,213.61 545.20,213.61" fill="#000"/>
<text x="525.50" y="191.30" font-size="9.9" textLength="39.5" lengthAdjust="spacingAndGlyphs">V<tspan font-size="6.3" dy="0.3" stroke-width="0.12">(REF_TMP)</tspan></text>
<path d="M612.00,188.00 L612.00,224.50" fill="none" stroke="#000" stroke-width="1.38" />
<circle cx="612.00" cy="205.50" r="2.85" fill="#000"/>
<path d="M612.00,205.50 L634.80,205.50 L634.80,358.60" fill="none" stroke="#000" stroke-width="1.38" />
<polygon points="557,224.5 628,224.5 592.4,284.2" fill="#fff" stroke="#000" stroke-width="1.38"/>
<path d="M571.30,236.80 L576.30,236.80" fill="none" stroke="#000" stroke-width="1.1" />
<path d="M573.80,234.30 L573.80,239.30" fill="none" stroke="#000" stroke-width="1.1" />
<path d="M609.50,233.20 L609.50,240.60" fill="none" stroke="#000" stroke-width="1.2" />
<polygon points="598.80,273.60 613.60,269.00 613.60,278.20" fill="#000"/>
<path d="M613.00,273.60 L630.00,273.60" fill="none" stroke="#000" stroke-width="1.38" />
<text x="615.80" y="268.80" font-size="10.6" textLength="14.4" lengthAdjust="spacingAndGlyphs" >EN</text>
<path d="M592.40,284.20 L592.40,358.40 L613.40,358.40" fill="none" stroke="#000" stroke-width="1.38" />
<path d="M613.40,358.40 L613.40,383.60" fill="none" stroke="#000" stroke-width="1.3" />
<path d="M620.50,353.80 L620.50,362.60" fill="none" stroke="#000" stroke-width="1.3" />
<path d="M620.50,366.30 L620.50,375.40" fill="none" stroke="#000" stroke-width="1.3" />
<path d="M620.50,379.10 L620.50,388.00" fill="none" stroke="#000" stroke-width="1.3" />
<path d="M620.50,358.60 L634.80,358.60" fill="none" stroke="#000" stroke-width="1.38" />
<circle cx="634.80" cy="358.60" r="2.85" fill="#000"/>
<path d="M620.50,371.20 L634.80,371.20 L634.80,358.60" fill="none" stroke="#000" stroke-width="1.3" />
<polygon points="633.2,371.2 623.5,366.3 623.5,376.1" fill="#000"/>
<path d="M620.50,383.60 L634.80,383.60 L634.80,405.30 L594.40,405.30 L594.40,540.00" fill="none" stroke="#000" stroke-width="1.38" />
<circle cx="594.30" cy="436.30" r="2.85" fill="#000"/>
<path d="M594.30,436.30 L630.00,436.30" fill="none" stroke="#000" stroke-width="1.38" />
<polygon points="630,425.5 630,466.8 663.8,446.2" fill="#fff" stroke="#000" stroke-width="1.38"/>
<path d="M633.90,437.00 L638.70,437.00" fill="none" stroke="#000" stroke-width="1.1" />
<path d="M636.30,434.60 L636.30,439.40" fill="none" stroke="#000" stroke-width="1.1" />
<path d="M634.00,456.40 L638.60,456.40" fill="none" stroke="#000" stroke-width="1.1" />
<path d="M613.80,456.80 L630.00,456.80" fill="none" stroke="#000" stroke-width="1.38" />
<path d="M663.80,446.20 L682.50,446.20" fill="none" stroke="#000" stroke-width="1.38" />
<polygon points="697.80,446.20 682.20,441.40 682.20,451.00" fill="#000"/>
<text x="653.00" y="461.80" font-size="10.6" textLength="52.0" lengthAdjust="spacingAndGlyphs" >GATE_ON</text>
<text x="666.30" y="475.50" font-size="10.6" textLength="25.0" lengthAdjust="spacingAndGlyphs" >/OFF</text>
<text x="602.50" y="472.50" font-size="10.6" textLength="41.0" lengthAdjust="spacingAndGlyphs">V<tspan font-size="6.6" dy="0.25" stroke-width="0.12">(TMP_OT)</tspan></text>
<path d="M695.30,188.00 L695.30,212.60" fill="none" stroke="#000" stroke-width="1.38" />
<circle cx="695.30" cy="212.60" r="2.8" fill="#000"/>
<text x="666.20" y="201.30" font-size="10.6" textLength="20.8" lengthAdjust="spacingAndGlyphs" >BST</text>
<path d="M671.80,204.30 L682.00,204.30" fill="none" stroke="#000" stroke-width="1.38" />
<path d="M676.80,204.30 L676.80,212.60 L706.20,212.60" fill="none" stroke="#000" stroke-width="1.38" />
<text x="703.80" y="208.80" font-size="10.6" textLength="25.8" lengthAdjust="spacingAndGlyphs" >0.5 A</text>
<path d="M706.20,212.60 L706.20,226.50" fill="none" stroke="#000" stroke-width="1.2" />
<path d="M701.60,226.50 L710.80,226.50" fill="none" stroke="#000" stroke-width="1.3" />
<path d="M718.80,212.60 L718.80,226.50" fill="none" stroke="#000" stroke-width="1.2" />
<path d="M714.20,226.50 L723.40,226.50" fill="none" stroke="#000" stroke-width="1.3" />
<path d="M731.30,212.60 L731.30,226.50" fill="none" stroke="#000" stroke-width="1.2" />
<path d="M726.70,226.50 L735.90,226.50" fill="none" stroke="#000" stroke-width="1.3" />
<path d="M706.20,212.60 L719.40,212.60" fill="none" stroke="#000" stroke-width="1.38" />
<polygon points="718.8,214 714.3,223.2 723.3,223.2" fill="#000"/>
<path d="M731.30,212.60 L795.30,212.60" fill="none" stroke="#000" stroke-width="1.38" />
<path d="M705.40,233.80 L731.50,233.80" fill="none" stroke="#000" stroke-width="1.38" />
<path d="M706.00,233.80 L706.00,251.00 L814.50,251.00 L814.50,226.60" fill="none" stroke="#000" stroke-width="1.38" />
<circle cx="759.30" cy="251.00" r="2.85" fill="#000"/>
<path d="M759.30,251.00 L759.30,259.00" fill="none" stroke="#000" stroke-width="1.38" />
<text x="720.80" y="270.60" font-size="10.6" textLength="76.8" lengthAdjust="spacingAndGlyphs" >GATE_ON/OFF</text>
<path d="M761.00,188.00 L761.00,212.60" fill="none" stroke="#000" stroke-width="1.38" />
<circle cx="761.00" cy="212.60" r="2.8" fill="#000"/>
<text x="795.50" y="208.80" font-size="10.6" textLength="16.4" lengthAdjust="spacingAndGlyphs" >2 A</text>
<path d="M795.30,212.60 L795.30,224.00" fill="none" stroke="#000" stroke-width="1.2" />
<path d="M792.10,224.00 L798.50,224.00" fill="none" stroke="#000" stroke-width="1.3" />
<path d="M804.80,212.60 L804.80,224.00" fill="none" stroke="#000" stroke-width="1.2" />
<path d="M801.60,224.00 L808.00,224.00" fill="none" stroke="#000" stroke-width="1.3" />
<path d="M814.50,212.60 L814.50,224.00" fill="none" stroke="#000" stroke-width="1.2" />
<path d="M811.30,224.00 L817.70,224.00" fill="none" stroke="#000" stroke-width="1.3" />
<polygon points="804.8,220 801.6,213 808,213" fill="#000"/>
<path d="M804.20,212.60 L829.40,212.60" fill="none" stroke="#000" stroke-width="1.38" />
<path d="M794.80,226.60 L814.50,226.60" fill="none" stroke="#000" stroke-width="1.38" />
<path d="M829.40,188.00 L829.40,212.60" fill="none" stroke="#000" stroke-width="1.38" />
<circle cx="829.40" cy="212.60" r="2.8" fill="#000"/>
<text x="835.80" y="208.80" font-size="10.6" textLength="32.4" lengthAdjust="spacingAndGlyphs" >0.39 A</text>
<path d="M829.40,212.60 L854.40,212.60" fill="none" stroke="#000" stroke-width="1.38" />
<path d="M844.60,212.60 L844.60,224.00" fill="none" stroke="#000" stroke-width="1.2" />
<path d="M841.40,224.00 L847.80,224.00" fill="none" stroke="#000" stroke-width="1.3" />
<path d="M853.80,212.60 L853.80,224.00" fill="none" stroke="#000" stroke-width="1.2" />
<path d="M850.60,224.00 L857.00,224.00" fill="none" stroke="#000" stroke-width="1.3" />
<path d="M863.30,212.60 L863.30,224.00" fill="none" stroke="#000" stroke-width="1.2" />
<path d="M860.10,224.00 L866.50,224.00" fill="none" stroke="#000" stroke-width="1.3" />
<polygon points="853.8,220 850.6,213 857,213" fill="#000"/>
<path d="M863.30,212.60 L878.60,212.60" fill="none" stroke="#000" stroke-width="1.38" />
<path d="M844.20,226.60 L864.00,226.60" fill="none" stroke="#000" stroke-width="1.38" />
<path d="M844.60,226.60 L844.60,259.60" fill="none" stroke="#000" stroke-width="1.38" />
<text x="815.80" y="270.60" font-size="10.6" textLength="55.6" lengthAdjust="spacingAndGlyphs" >G_ON/OFF</text>
<path d="M878.60,188.00 L878.60,230.00" fill="none" stroke="#000" stroke-width="1.38" />
<circle cx="878.60" cy="212.60" r="2.8" fill="#000"/>
<path d="M878.60,253.00 L878.60,282.40" fill="none" stroke="#000" stroke-width="1.38" />
<path d="M873.60,282.40 L883.80,282.40" fill="none" stroke="#000" stroke-width="1.38" />
<circle cx="878.70" cy="241.70" r="11.6" fill="#fff" stroke="#000" stroke-width="1.4"/>
<path d="M878.70,250.50 L878.70,240.10" fill="none" stroke="#000" stroke-width="1.4" />
<polygon points="878.70,234.10 874.60,241.10 882.80,241.10" fill="#000"/>
<path d="M878.70,229.00 L878.70,236.00" fill="none" stroke="#000" stroke-width="1.3" />
<text x="881.20" y="228.00" font-size="10.6" textLength="34.0" lengthAdjust="spacingAndGlyphs" >100 µA</text>
<text x="851.20" y="285.00" font-size="10.6" textLength="20.4" lengthAdjust="spacingAndGlyphs" >BST</text>
<rect x="726.70" y="293.20" width="54.60" height="68.60" fill="#fff" stroke="#000" stroke-width="1.38"/>
<text x="730.40" y="308.80" font-size="10.6" textLength="48.2" lengthAdjust="spacingAndGlyphs" >CP (12 V)</text>
<text x="737.60" y="353.80" font-size="10.6" textLength="36.2" lengthAdjust="spacingAndGlyphs" >600 µA</text>
<text x="695.90" y="332.90" font-size="10.6" textLength="14.0" lengthAdjust="spacingAndGlyphs" >VS</text>
<path d="M714.00,329.80 L743.50,329.80" fill="none" stroke="#000" stroke-width="1.38" />
<path d="M766.50,329.80 L809.30,329.80 L809.30,322.60" fill="none" stroke="#000" stroke-width="1.38" />
<path d="M803.80,322.60 L814.60,322.60" fill="none" stroke="#000" stroke-width="1.38" />
<circle cx="755.20" cy="329.80" r="11.6" fill="#fff" stroke="#000" stroke-width="1.4"/>
<path d="M747.60,329.80 L757.40,329.80" fill="none" stroke="#000" stroke-width="1.4" />
<polygon points="764.20,329.80 756.40,325.80 756.40,333.80" fill="#000"/>
<text x="799.20" y="320.00" font-size="10.6" textLength="20.8" lengthAdjust="spacingAndGlyphs" >BST</text>
<polygon points="755.50,362.00 750.10,377.00 760.90,377.00" fill="#000"/>
<path d="M755.50,376.00 L755.50,390.60" fill="none" stroke="#000" stroke-width="1.38" />
<rect x="716.60" y="390.60" width="74.80" height="44.40" fill="#fff" stroke="#000" stroke-width="1.38"/>
<text x="754.00" y="402.50" font-size="10.6" text-anchor="middle" textLength="36.6" lengthAdjust="spacingAndGlyphs" >Charge</text>
<text x="754.00" y="416.20" font-size="10.6" text-anchor="middle" textLength="27.5" lengthAdjust="spacingAndGlyphs" >pump</text>
<text x="754.00" y="429.30" font-size="10.6" text-anchor="middle" textLength="59.0" lengthAdjust="spacingAndGlyphs" >enable logic</text>
<polygon points="722.50,435.20 717.50,449.00 727.50,449.00" fill="#000"/>
<path d="M722.50,448.00 L722.50,459.30" fill="none" stroke="#000" stroke-width="1.38" />
<text x="715.00" y="470.80" font-size="10.6" textLength="14.4" lengthAdjust="spacingAndGlyphs" >EN</text>
<polygon points="753.70,435.20 748.70,449.00 758.70,449.00" fill="#000"/>
<path d="M753.70,448.00 L753.70,459.30" fill="none" stroke="#000" stroke-width="1.38" />
<text x="742.60" y="470.80" font-size="10.6" textLength="20.8" lengthAdjust="spacingAndGlyphs" >BST</text>
<polygon points="786.20,435.20 781.20,449.00 791.20,449.00" fill="#000"/>
<path d="M786.20,448.00 L786.20,459.30" fill="none" stroke="#000" stroke-width="1.38" />
<text x="774.40" y="470.80" font-size="10.6" textLength="22.8" lengthAdjust="spacingAndGlyphs" >SRC</text>
<rect x="715.60" y="488.40" width="75.80" height="44.60" fill="#fff" stroke="#000" stroke-width="1.38"/>
<text x="753.20" y="500.10" font-size="10.6" text-anchor="middle" textLength="41.2" lengthAdjust="spacingAndGlyphs" >Reverse</text>
<text x="753.20" y="513.80" font-size="10.6" text-anchor="middle" textLength="48.2" lengthAdjust="spacingAndGlyphs" >protection</text>
<text x="753.20" y="526.60" font-size="10.6" text-anchor="middle" textLength="23.0" lengthAdjust="spacingAndGlyphs" >logic</text>
<text x="663.80" y="513.90" font-size="10.6" textLength="23.0" lengthAdjust="spacingAndGlyphs" >DRN</text>
<path d="M692.50,509.80 L701.00,509.80" fill="none" stroke="#000" stroke-width="1.38" />
<polygon points="715.40,509.80 700.80,505.10 700.80,514.50" fill="#000"/>
<path d="M791.40,509.80 L799.50,509.80" fill="none" stroke="#000" stroke-width="1.38" />
<polygon points="814.80,509.80 799.20,505.00 799.20,514.60" fill="#000"/>
<text x="812.60" y="507.00" font-size="10.6" textLength="52.2" lengthAdjust="spacingAndGlyphs" >GATE_ON</text>
<text x="826.00" y="520.60" font-size="10.6" textLength="25.2" lengthAdjust="spacingAndGlyphs" >/OFF</text>
<text x="830.00" y="540.00" font-size="10.4" textLength="63.6" lengthAdjust="spacingAndGlyphs" >TPS4812-Q1</text>
<path d="M754.00,533.00 L754.00,540.00" fill="none" stroke="#000" stroke-width="1.38" />
<path d="M912.50,295.00 L885.30,295.00 L885.30,313.80 L873.30,313.80" fill="none" stroke="#000" stroke-width="1.38" />
<path d="M873.30,311.20 L873.30,317.60" fill="none" stroke="#000" stroke-width="1.3" />
<path d="M873.30,320.60 L873.30,328.00" fill="none" stroke="#000" stroke-width="1.3" />
<path d="M873.30,330.60 L873.30,337.00" fill="none" stroke="#000" stroke-width="1.3" />
<path d="M870.80,314.40 L870.80,333.80" fill="none" stroke="#000" stroke-width="1.3" />
<path d="M846.30,333.50 L870.80,333.50" fill="none" stroke="#000" stroke-width="1.38" />
<path d="M873.30,324.20 L885.30,324.20" fill="none" stroke="#000" stroke-width="1.5" />
<polygon points="878.60,324.20 885.20,321.00 885.20,327.40" fill="#000"/>
<path d="M873.30,333.50 L885.30,333.50" fill="none" stroke="#000" stroke-width="1.38" />
<path d="M885.30,324.00 L885.30,353.30" fill="none" stroke="#000" stroke-width="1.38" />
<polygon points="874.80,353.30 895.80,353.30 885.30,363.40" fill="#fff" stroke="#000" stroke-width="1.38" stroke-linejoin="miter"/>
<text x="833.80" y="328.80" font-size="10.6" textLength="28.2" lengthAdjust="spacingAndGlyphs" >I_DIR</text>
<path d="M831.30,317.10 L864.60,317.10" fill="none" stroke="#000" stroke-width="1.1" />
<text x="890.00" y="330.80" font-size="10.6" textLength="23.6" lengthAdjust="spacingAndGlyphs" >70 Ω</text>
<path d="M912.50,376.50 L885.30,376.50 L885.30,395.30 L873.30,395.30" fill="none" stroke="#000" stroke-width="1.38" />
<path d="M873.30,392.70 L873.30,399.10" fill="none" stroke="#000" stroke-width="1.3" />
<path d="M873.30,402.10 L873.30,409.50" fill="none" stroke="#000" stroke-width="1.3" />
<path d="M873.30,412.10 L873.30,418.50" fill="none" stroke="#000" stroke-width="1.3" />
<path d="M870.80,395.90 L870.80,415.30" fill="none" stroke="#000" stroke-width="1.3" />
<path d="M846.30,415.00 L870.80,415.00" fill="none" stroke="#000" stroke-width="1.38" />
<path d="M873.30,405.70 L885.30,405.70" fill="none" stroke="#000" stroke-width="1.5" />
<polygon points="878.60,405.70 885.20,402.50 885.20,408.90" fill="#000"/>
<path d="M873.30,415.00 L885.30,415.00" fill="none" stroke="#000" stroke-width="1.38" />
<path d="M885.30,405.50 L885.30,435.00" fill="none" stroke="#000" stroke-width="1.38" />
<polygon points="874.80,435.00 895.80,435.00 885.30,445.10" fill="#fff" stroke="#000" stroke-width="1.38" stroke-linejoin="miter"/>
<text x="831.80" y="410.50" font-size="10.6" textLength="31.6" lengthAdjust="spacingAndGlyphs" >WAKE</text>
<path d="M831.30,398.60 L864.60,398.60" fill="none" stroke="#000" stroke-width="1.1" />
<text x="890.00" y="412.30" font-size="10.6" textLength="23.6" lengthAdjust="spacingAndGlyphs" >70 Ω</text>
<path d="M912.50,457.60 L886.40,457.60 L886.40,472.50 L874.40,472.50" fill="none" stroke="#000" stroke-width="1.38" />
<path d="M874.40,469.90 L874.40,476.30" fill="none" stroke="#000" stroke-width="1.3" />
<path d="M874.40,479.30 L874.40,486.70" fill="none" stroke="#000" stroke-width="1.3" />
<path d="M874.40,489.30 L874.40,495.70" fill="none" stroke="#000" stroke-width="1.3" />
<path d="M871.90,473.10 L871.90,492.50" fill="none" stroke="#000" stroke-width="1.3" />
<path d="M847.40,492.20 L871.90,492.20" fill="none" stroke="#000" stroke-width="1.38" />
<path d="M874.40,482.90 L886.40,482.90" fill="none" stroke="#000" stroke-width="1.5" />
<polygon points="879.70,482.90 886.30,479.70 886.30,486.10" fill="#000"/>
<path d="M874.40,492.20 L886.40,492.20" fill="none" stroke="#000" stroke-width="1.38" />
<path d="M886.40,482.70 L886.40,517.00" fill="none" stroke="#000" stroke-width="1.38" />
<polygon points="875.90,517.00 896.90,517.00 886.40,527.10" fill="#fff" stroke="#000" stroke-width="1.38" stroke-linejoin="miter"/>
<text x="841.80" y="487.60" font-size="10.6" textLength="18.0" lengthAdjust="spacingAndGlyphs" >FLT</text>
<text x="890.00" y="488.90" font-size="10.6" textLength="23.6" lengthAdjust="spacingAndGlyphs" >70 Ω</text>
<text x="937.20" y="300.30" font-size="10.6" textLength="27.8" lengthAdjust="spacingAndGlyphs" >I_DIR</text>
<text x="934.60" y="380.80" font-size="10.6" textLength="32.0" lengthAdjust="spacingAndGlyphs" >WAKE</text>
<text x="933.40" y="462.00" font-size="10.6" textLength="18.4" lengthAdjust="spacingAndGlyphs" >FLT</text>
<path d="M933.00,450.80 L953.00,450.80" fill="none" stroke="#000" stroke-width="1.1" />
<text x="284.00" y="564.70" font-size="10.6" textLength="23.4" lengthAdjust="spacingAndGlyphs" >TMR</text>
<text x="345.30" y="563.00" font-size="10.6" textLength="27.8" lengthAdjust="spacingAndGlyphs" >IMON</text>
<text x="418.80" y="561.80" font-size="10.6" textLength="11.6" lengthAdjust="spacingAndGlyphs" >I2t</text>
<text x="481.70" y="561.80" font-size="10.6" textLength="18.6" lengthAdjust="spacingAndGlyphs" >IOC</text>
<text x="550.30" y="561.70" font-size="10.6" textLength="34.2" lengthAdjust="spacingAndGlyphs" >ITMPO</text>
<text x="718.20" y="559.30" font-size="10.6" textLength="23.6" lengthAdjust="spacingAndGlyphs" >GND</text>
<path d="M317.70,555.00 L317.70,586.70" fill="none" stroke="#000" stroke-width="1.38" />
<path d="M308.00,586.70 L327.50,586.70" fill="none" stroke="#000" stroke-width="1.3" />
<path d="M308.00,591.50 L327.50,591.50" fill="none" stroke="#000" stroke-width="1.3" />
<path d="M317.70,591.50 L317.70,623.40" fill="none" stroke="#000" stroke-width="1.38" />
<polygon points="307.20,623.40 328.20,623.40 317.70,633.50" fill="#fff" stroke="#000" stroke-width="1.38" stroke-linejoin="miter"/>
<text x="281.40" y="592.80" font-size="10.8" textLength="23.6" lengthAdjust="spacingAndGlyphs">C<tspan font-size="7.4" stroke-width="0.12">TMR</tspan></text>
<path d="M383.00,555.00 L383.00,570.40" fill="none" stroke="#000" stroke-width="1.38" />
<path d="M383.00,570.40 L378.60,572.79 L387.40,576.97 L378.60,581.56 L387.40,585.74 L378.60,589.92 L387.40,594.11 L383.00,596.30" fill="none" stroke="#000" stroke-width="1.38" stroke-linejoin="round"/>
<path d="M383.00,596.30 L383.00,623.60" fill="none" stroke="#000" stroke-width="1.38" />
<polygon points="372.50,623.60 393.50,623.60 383.00,633.70" fill="#fff" stroke="#000" stroke-width="1.38" stroke-linejoin="miter"/>
<text x="347.60" y="588.20" font-size="10.8" textLength="26.6" lengthAdjust="spacingAndGlyphs">R<tspan font-size="7.4" dy="1.6" stroke-width="0.12">IMON</tspan></text>
<path d="M444.60,555.00 L444.60,583.70" fill="none" stroke="#000" stroke-width="1.38" />
<path d="M434.80,583.70 L454.40,583.70" fill="none" stroke="#000" stroke-width="1.3" />
<path d="M434.80,588.50 L454.40,588.50" fill="none" stroke="#000" stroke-width="1.3" />
<path d="M444.60,588.50 L444.60,623.60" fill="none" stroke="#000" stroke-width="1.38" />
<polygon points="434.10,623.60 455.10,623.60 444.60,633.70" fill="#fff" stroke="#000" stroke-width="1.38" stroke-linejoin="miter"/>
<text x="415.80" y="590.20" font-size="10.8" textLength="15.6" lengthAdjust="spacingAndGlyphs">C<tspan font-size="7.4" stroke-width="0.12">I2t</tspan></text>
<path d="M508.40,555.00 L508.40,570.60" fill="none" stroke="#000" stroke-width="1.38" />
<path d="M508.40,570.60 L504.00,572.99 L512.80,577.17 L504.00,581.76 L512.80,585.94 L504.00,590.12 L512.80,594.31 L508.40,596.50" fill="none" stroke="#000" stroke-width="1.38" stroke-linejoin="round"/>
<path d="M508.40,596.50 L508.40,623.60" fill="none" stroke="#000" stroke-width="1.38" />
<polygon points="497.90,623.60 518.90,623.60 508.40,633.70" fill="#fff" stroke="#000" stroke-width="1.38" stroke-linejoin="miter"/>
<text x="479.00" y="589.60" font-size="10.8" textLength="20.8" lengthAdjust="spacingAndGlyphs">R<tspan font-size="7.4" stroke-width="0.12">IOC</tspan></text>
<path d="M594.30,555.00 L594.30,569.00" fill="none" stroke="#000" stroke-width="1.38" />
<path d="M594.30,569.00 L589.90,571.39 L598.70,575.57 L589.90,580.16 L598.70,584.34 L589.90,588.52 L598.70,592.71 L594.30,594.90" fill="none" stroke="#000" stroke-width="1.38" stroke-linejoin="round"/>
<path d="M594.30,594.90 L594.30,623.60" fill="none" stroke="#000" stroke-width="1.38" />
<polygon points="583.80,623.60 604.80,623.60 594.30,633.70" fill="#fff" stroke="#000" stroke-width="1.38" stroke-linejoin="miter"/>
<text x="602.60" y="586.90" font-size="10.8" textLength="30.6" lengthAdjust="spacingAndGlyphs">R<tspan font-size="7.4" stroke-width="0.12">ITMPO</tspan></text>
<path d="M754.30,555.00 L754.30,571.50" fill="none" stroke="#000" stroke-width="1.38" />
<polygon points="743.70,571.50 764.90,571.50 754.30,582.10" fill="#fff" stroke="#000" stroke-width="1.38" stroke-linejoin="miter"/>
<rect x="120.75" y="173.80" width="13.5" height="14.0" fill="#fff" stroke="#222" stroke-width="1.15"/>
<rect x="352.55" y="173.80" width="13.5" height="14.0" fill="#fff" stroke="#222" stroke-width="1.15"/>
<rect x="396.25" y="173.80" width="13.5" height="14.0" fill="#fff" stroke="#222" stroke-width="1.15"/>
<rect x="449.95" y="173.80" width="13.5" height="14.0" fill="#fff" stroke="#222" stroke-width="1.15"/>
<rect x="509.35" y="173.80" width="13.5" height="14.0" fill="#fff" stroke="#222" stroke-width="1.15"/>
<rect x="565.25" y="173.80" width="13.5" height="14.0" fill="#fff" stroke="#222" stroke-width="1.15"/>
<rect x="605.25" y="173.80" width="13.5" height="14.0" fill="#fff" stroke="#222" stroke-width="1.15"/>
<rect x="688.55" y="173.80" width="13.5" height="14.0" fill="#fff" stroke="#222" stroke-width="1.15"/>
<rect x="754.45" y="173.80" width="13.5" height="14.0" fill="#fff" stroke="#222" stroke-width="1.15"/>
<rect x="822.85" y="173.80" width="13.5" height="14.0" fill="#fff" stroke="#222" stroke-width="1.15"/>
<rect x="871.45" y="173.80" width="13.5" height="14.0" fill="#fff" stroke="#222" stroke-width="1.15"/>
<rect x="311.05" y="540.40" width="13.5" height="14.0" fill="#fff" stroke="#222" stroke-width="1.15"/>
<rect x="376.25" y="540.40" width="13.5" height="14.0" fill="#fff" stroke="#222" stroke-width="1.15"/>
<rect x="437.65" y="540.40" width="13.5" height="14.0" fill="#fff" stroke="#222" stroke-width="1.15"/>
<rect x="501.55" y="540.40" width="13.5" height="14.0" fill="#fff" stroke="#222" stroke-width="1.15"/>
<rect x="587.55" y="540.40" width="13.5" height="14.0" fill="#fff" stroke="#222" stroke-width="1.15"/>
<rect x="747.65" y="540.40" width="13.5" height="14.0" fill="#fff" stroke="#222" stroke-width="1.15"/>
<rect x="69.20" y="340.10" width="13.7" height="14.2" fill="#fff" stroke="#222" stroke-width="1.15"/>
<rect x="69.20" y="390.70" width="13.7" height="14.2" fill="#fff" stroke="#222" stroke-width="1.15"/>
<rect x="69.20" y="443.90" width="13.7" height="14.2" fill="#fff" stroke="#222" stroke-width="1.15"/>
<rect x="912.90" y="287.85" width="13.8" height="14.3" fill="#fff" stroke="#222" stroke-width="1.15"/>
<rect x="912.90" y="369.35" width="13.8" height="14.3" fill="#fff" stroke="#222" stroke-width="1.15"/>
<rect x="912.90" y="450.65" width="13.8" height="14.3" fill="#fff" stroke="#222" stroke-width="1.15"/>
</svg>
</body>
</html>
